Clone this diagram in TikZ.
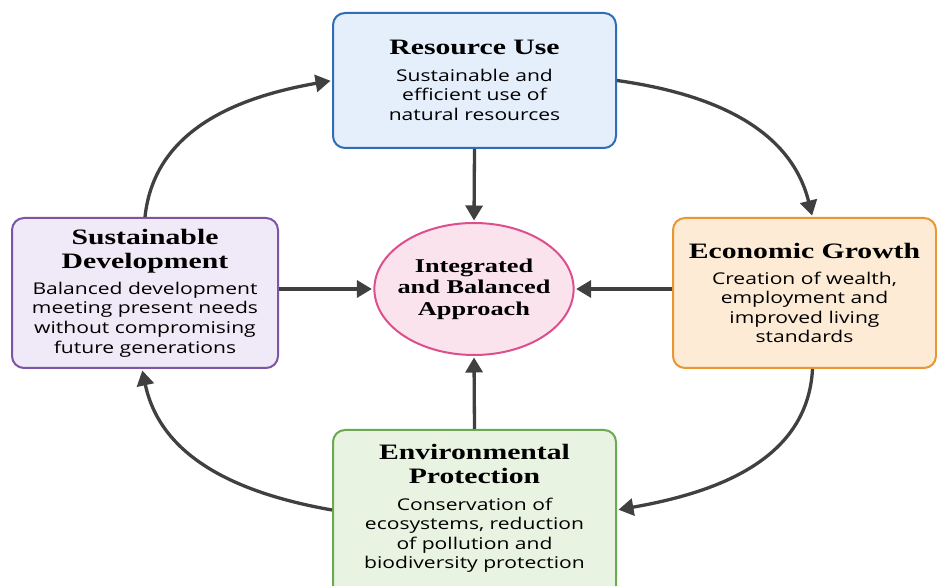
\documentclass[tikz,border=0pt]{standalone}
\usepackage{fontspec}
\setmainfont[FakeStretch=1.35]{Liberation Serif}
\newfontfamily\bodyfont[FakeStretch=1.3]{Open Sans}
\usepackage{tikz}
\usetikzlibrary{shapes.geometric, arrows.meta, positioning}
\definecolor{rescol}{HTML}{2F6EB5}
\definecolor{resfill}{HTML}{E4EFFB}
\definecolor{devcol}{HTML}{7D55A6}
\definecolor{devfill}{HTML}{F0EAF8}
\definecolor{ecocol}{HTML}{E99733}
\definecolor{ecofill}{HTML}{FDEBD5}
\definecolor{envcol}{HTML}{6BAA50}
\definecolor{envfill}{HTML}{E8F3E1}
\definecolor{hubcol}{HTML}{DD4F8C}
\definecolor{hubfill}{HTML}{FBE3EE}
\definecolor{arrcol}{HTML}{404040}

\newcommand{\cardhead}{\rmfamily\fontsize{22}{24}\selectfont\bfseries}

\begin{document}
\begin{tikzpicture}[
  x=1pt, y=1pt,
  >={Triangle[length=15pt, width=17pt]},
  card/.style={draw, rounded corners=12pt, line width=2pt, align=center,
               inner sep=0pt, font=\bodyfont\fontsize{16.2}{19.6}\selectfont},
  hub/.style={ellipse, draw=hubcol, fill=hubfill, line width=2pt,
              minimum width=198pt, minimum height=132pt,
              inner xsep=-6pt, inner ysep=0pt,
              align=center, font=\fontsize{19.5}{21.5}\selectfont\bfseries},
  arr/.style={->, line width=3.3pt, draw=arrcol, shorten >=1.5pt}
]
\useasboundingbox[fill=white] (0,0) rectangle (937,586);
\clip (0,0) rectangle (937,586);

%% ── Centre ────────────────────────────────────────────────────────────────
\node[hub] (hub) at (474, 297) {Integrated\\and Balanced\\Approach};

%% ── Four pillars ──────────────────────────────────────────────────────────
\node[card, draw=rescol, fill=resfill,
      minimum width=283pt, minimum height=135pt] (res) at (474.5, 505.5)
      {{\cardhead Resource Use}\\[6.5pt]
       Sustainable and\\efficient use of\\natural resources};

\node[card, draw=devcol, fill=devfill,
      minimum width=266pt, minimum height=150pt] (dev) at (145, 293)
      {{\cardhead Sustainable}\\[4.5pt]{\cardhead Development}\\[6.5pt]
       Balanced development\\meeting present needs\\without compromising\\future generations};

\node[card, draw=ecocol, fill=ecofill,
      minimum width=263pt, minimum height=150pt] (eco) at (804.5, 293)
      {{\cardhead Economic Growth}\\[6.5pt]
       Creation of wealth,\\employment and\\improved living\\standards};

% runs off the bottom edge; empty last line lifts the text a little
\node[card, draw=envcol, fill=envfill,
      minimum width=283pt, minimum height=170pt] (env) at (474.5, 71)
      {{\cardhead Environmental}\\[4.5pt]{\cardhead Protection}\\[6.5pt]
       Conservation of\\ecosystems, reduction\\of pollution and\\biodiversity protection\\[-3pt]\mbox{}};

%% ── Spokes into the centre ────────────────────────────────────────────────
\draw[arr] (res.south) -- (hub.north);
\draw[arr] (env.north) -- (hub.south);
\draw[arr] (dev.east |- hub.west) -- (hub.west);
\draw[arr] (eco.west |- hub.east) -- (hub.east);

%% ── Outer cycle ───────────────────────────────────────────────────────────
\draw[arr] (res.east) to[out=-8, in=104] ([xshift=8pt]eco.north);
\draw[arr] ([xshift=8pt]eco.south) to[out=-93, in=10] ([yshift=5pt]env.east);
\draw[arr] ([yshift=5pt]env.west) to[out=170, in=-78] ([xshift=-3pt]dev.south);
\draw[arr] (dev.north) to[out=84, in=190] (res.west);

\end{tikzpicture}
\end{document}
